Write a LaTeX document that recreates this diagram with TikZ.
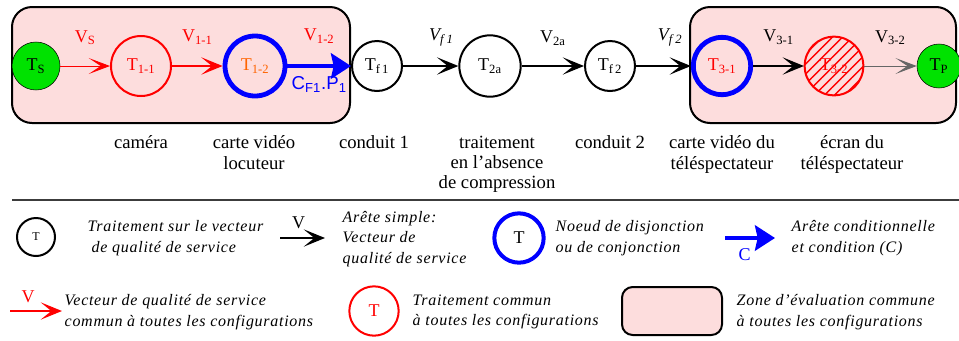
\documentclass[tikz,border=0pt]{standalone}
\usepackage{fontspec}
\setmainfont{Liberation Serif}
\setsansfont{Liberation Sans}
\usetikzlibrary{arrows.meta,positioning,patterns.meta}
\definecolor{zonepink}{RGB}{253,221,221}
\definecolor{startgreen}{RGB}{0,226,0}
\definecolor{labelorange}{RGB}{255,100,0}
\definecolor{sepgray}{RGB}{60,60,60}
\begin{document}
\begin{tikzpicture}[x=0.75pt,y=-0.75pt, every node/.style={font=\fontsize{13.5}{15}\selectfont,align=center}, proc/.style={circle,draw,line width=1.5pt,minimum size=45pt,inner sep=0pt}, common/.style={proc,draw=red,text=red}, junction/.style={proc,draw=blue,line width=3.6pt}, endpt/.style={circle,draw,thin,fill=startgreen,minimum size=36pt,inner sep=0pt}, zone/.style={draw,line width=1.5pt,rounded corners=15pt,fill=zonepink,inner sep=0pt}, desc/.style={anchor=north,font=\fontsize{14}{15.3}\selectfont}, legtext/.style={anchor=west,align=left,font=\fontsize{12}{15.5}\selectfont\itshape\addfontfeatures{LetterSpace=4.5}}, arr/.style={-{Stealth[length=16pt,width=13pt,inset=8pt]},line width=1.6pt}, redarr/.style={arr,red}, thinarr/.style={-{Stealth[length=16pt,width=12pt,inset=9pt]},line width=0.7pt}, condarr/.style={-{Stealth[length=15pt,width=19pt,inset=2pt]},line width=3.6pt,blue}]
\useasboundingbox (0,0) rectangle (959,340);
\node[zone,minimum width=253.5pt,minimum height=87pt] (zoneA) at (181,65) {};
\node[zone,minimum width=199.5pt,minimum height=87pt] (zoneB) at (823,65) {};
\node[endpt] (ts) at (36,66) {T\textsubscript{S}};
\node[common] (t11) at (141,66) {T\textsubscript{1-1}};
\node[junction,text=labelorange] (t12) at (255,66) {T\textsubscript{1-2}};
\node[proc,minimum size=37.5pt] (tf1) at (377,66) {T\textsubscript{f\,1}};
\node[proc,minimum size=46pt] (t2a) at (490,66) {T\textsubscript{2a}};
\node[proc,minimum size=37.5pt] (tf2) at (610,66) {T\textsubscript{f\,2}};
\node[junction,minimum size=43pt,text=red] (t31) at (722,66) {T\textsubscript{3-1}};
\node[common,minimum size=44pt,pattern={Lines[angle=45,distance=5.3pt,line width=1.1pt]},pattern color=red] (t32) at (834,66) {T\textsubscript{3-2}};
\node[endpt,minimum size=33pt] (tp) at (939,66) {T\textsubscript{P}};
\draw[thinarr,red] (ts) -- (t11) node[midway,above=12pt,text=red] (vs) {V\textsubscript{S}};
\draw[redarr] (t11) -- (t12) node[midway,above=12pt,text=red] (v11) {V\textsubscript{1-1}};
\draw[condarr] (t12) -- (tf1) node[midway,above=12pt,text=red] (v12) {V\textsubscript{1-2}} node[midway,below=3pt,font=\fontsize{14}{15}\sffamily] (cf1) {C\textsubscript{F1}.P\textsubscript{1}};
\draw[arr] (tf1) -- (t2a) node[midway,above=11pt,xshift=8pt] (vf1) {\textit{V\textsubscript{f 1}}};
\draw[arr] (t2a) -- (tf2) node[midway,above=11pt] (v2a) {V\textsubscript{2a}};
\draw[arr] (tf2) -- (t31) node[midway,above=11pt,xshift=5pt] (vf2) {\textit{V\textsubscript{f 2}}};
\draw[arr] (t31) -- (t32) node[midway,above=12pt] (v31) {V\textsubscript{3-1}};
\draw[thinarr,draw=gray!80!black] (t32) -- (tp) node[midway,above=12pt,text=black] (v32) {V\textsubscript{3-2}};
\node[desc] (dcam) at (141,131) {caméra};
\node[desc] (dcarte) at (254,131) {carte vidéo\\locuteur};
\node[desc] (dcond1) at (374,131) {conduit 1};
\node[desc] (dtrait) at (497,131) {traitement\\en l'absence\\de compression};
\node[desc] (dcond2) at (610,131) {conduit 2};
\node[desc] (dcarte2) at (722,131) {carte vidéo du\\téléspectateur};
\node[desc] (decran) at (852,131) {écran du\\téléspectateur};
\coordinate (sepL) at (12,200);\coordinate (sepR) at (959,200);
\draw[sepgray,line width=0.8pt] (sepL) -- (sepR);
\node[proc,minimum size=28.5pt,font=\fontsize{9}{11}\selectfont] (legproc) at (36,237) {T};
\node[legtext] (legproctxt) at (83,238) {Traitement sur le vecteur\\\hspace{3pt}de qualité de service};
\coordinate (lsA) at (280,238);\coordinate (lsB) at (325,238);
\draw[arr] (lsA) -- (lsB) node[midway,above=3pt,xshift=-3pt] (legv) {V};
\node[legtext] (legsimple) at (338,239) {Arête simple:\\Vecteur de\\qualité de service};
\node[junction,minimum size=37pt,line width=3pt] (legjunc) at (519,238) {T};
\node[legtext] (legjunctxt) at (551,238) {Noeud de disjonction\\ou de conjonction};
\coordinate (lcA) at (725,238);\coordinate (lcB) at (775,238);
\draw[condarr,line width=3pt] (lcA) -- (lcB) node[midway,below=3pt,xshift=-4pt,text=blue] (legc) {C};
\node[legtext] (legcondtxt) at (787,238) {Arête conditionnelle\\et condition (C)};
\coordinate (lrA) at (10,311);\coordinate (lrB) at (62,311);
\draw[redarr] (lrA) -- (lrB) node[midway,above=2pt,xshift=-6pt,text=red] (legrv) {V};
\node[legtext] (legredtxt) at (60,312) {Vecteur de qualité de service\\commun à toutes les configurations};
\node[common,minimum size=37pt] (legcommon) at (374,311) {T};
\node[legtext] (legcommontxt) at (408,312) {Traitement commun\\à toutes les configurations};
\node[zone,minimum width=75pt,minimum height=36pt,rounded corners=8pt] (legzone) at (672,311) {};
\node[legtext] (legzonetxt) at (732,312) {Zone d'évaluation commune\\à toutes les configurations};
\end{tikzpicture}
\end{document}
